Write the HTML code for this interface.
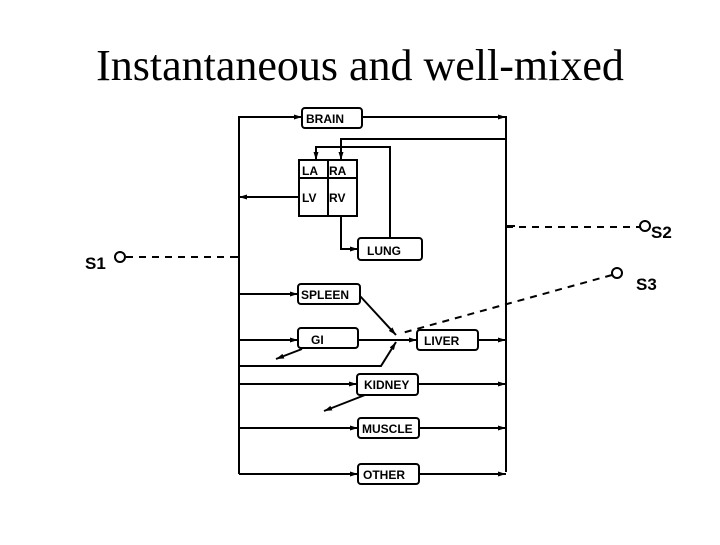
<!DOCTYPE html>
<html><head><meta charset="utf-8"><style>
body{margin:0;background:#fff;}
svg text{font-family:"Liberation Sans",sans-serif;font-weight:bold;}
</style></head><body>
<svg width="720" height="540" viewBox="0 0 720 540" xmlns="http://www.w3.org/2000/svg">
<defs><marker id="a" markerWidth="8" markerHeight="6" refX="8" refY="3" orient="auto" markerUnits="userSpaceOnUse"><path d="M0,0.5 L8,3 L0,5.5Z" fill="#000"/></marker></defs>
<text x="360" y="80" text-anchor="middle" style="font-family:'Liberation Serif',serif;font-weight:normal;font-size:44px">Instantaneous and well-mixed</text>
<g stroke="#000" stroke-width="2" fill="none">
<line x1="239" y1="116" x2="239" y2="474"/>
<line x1="506" y1="116" x2="506" y2="472"/>
<line x1="232" y1="257" x2="239" y2="257"/>
<line x1="506" y1="226" x2="515" y2="226"/>
<line x1="239" y1="117" x2="302" y2="117" marker-end="url(#a)"/>
<line x1="362" y1="117" x2="506" y2="117" marker-end="url(#a)"/>
<rect x="302" y="108" width="60" height="20" rx="3"/>
<polyline points="506,139 341,139 341,160" marker-end="url(#a)"/>
<polyline points="390,238 390,147 316,147 316,160" marker-end="url(#a)"/>
<rect x="299" y="160" width="58" height="56"/>
<line x1="328" y1="160" x2="328" y2="216"/>
<line x1="299" y1="178" x2="357" y2="178"/>
<line x1="299" y1="197" x2="239" y2="197" marker-end="url(#a)"/>
<polyline points="341,216 341,249 358,249" marker-end="url(#a)"/>
<rect x="358" y="238" width="64" height="22" rx="3"/>
<line x1="239" y1="294" x2="298" y2="294" marker-end="url(#a)"/>
<rect x="298" y="284" width="62" height="20" rx="3"/>
<line x1="360" y1="296" x2="396" y2="335" marker-end="url(#a)"/>
<line x1="239" y1="340" x2="298" y2="340" marker-end="url(#a)"/>
<rect x="298" y="328" width="60" height="20" rx="3"/>
<line x1="358" y1="340" x2="417" y2="340" marker-end="url(#a)"/>
<line x1="302" y1="349" x2="276" y2="359" marker-end="url(#a)"/>
<polyline points="239,366 381,366 396,342" marker-end="url(#a)"/>
<rect x="417" y="330" width="61" height="20" rx="3"/>
<line x1="478" y1="340" x2="506" y2="340" marker-end="url(#a)"/>
<line x1="239" y1="384" x2="357" y2="384" marker-end="url(#a)"/>
<rect x="357" y="374" width="61" height="21" rx="3"/>
<line x1="418" y1="384" x2="506" y2="384" marker-end="url(#a)"/>
<line x1="365" y1="395" x2="324" y2="411" marker-end="url(#a)"/>
<line x1="239" y1="428" x2="358" y2="428" marker-end="url(#a)"/>
<rect x="358" y="418" width="61" height="20" rx="3"/>
<line x1="419" y1="428" x2="506" y2="428" marker-end="url(#a)"/>
<line x1="239" y1="474" x2="358" y2="474" marker-end="url(#a)"/>
<rect x="358" y="464" width="61" height="20" rx="3"/>
<line x1="419" y1="474" x2="506" y2="474" marker-end="url(#a)"/>
<line x1="126" y1="257" x2="239" y2="257" stroke-dasharray="7,6"/>
<line x1="506" y1="227" x2="640" y2="227" stroke-dasharray="7,6"/>
<line x1="612" y1="275" x2="402" y2="333" stroke-dasharray="7,6"/>
<circle cx="120" cy="257" r="5"/>
<circle cx="645" cy="226" r="5"/>
<circle cx="617" cy="273" r="5"/>
</g>
<g font-size="12">
<text x="306" y="123">BRAIN</text>
<text x="302" y="175">LA</text><text x="329" y="175">RA</text>
<text x="302" y="202">LV</text><text x="329" y="202">RV</text>
<text x="367" y="255">LUNG</text>
<text x="301" y="299">SPLEEN</text>
<text x="311" y="344">GI</text>
<text x="424" y="345">LIVER</text>
<text x="364" y="389">KIDNEY</text>
<text x="362" y="433">MUSCLE</text>
<text x="363" y="479">OTHER</text>
</g>
<g font-size="17">
<text x="85" y="269">S1</text>
<text x="651" y="238">S2</text>
<text x="636" y="290">S3</text>
</g>
</svg>
</body></html>
